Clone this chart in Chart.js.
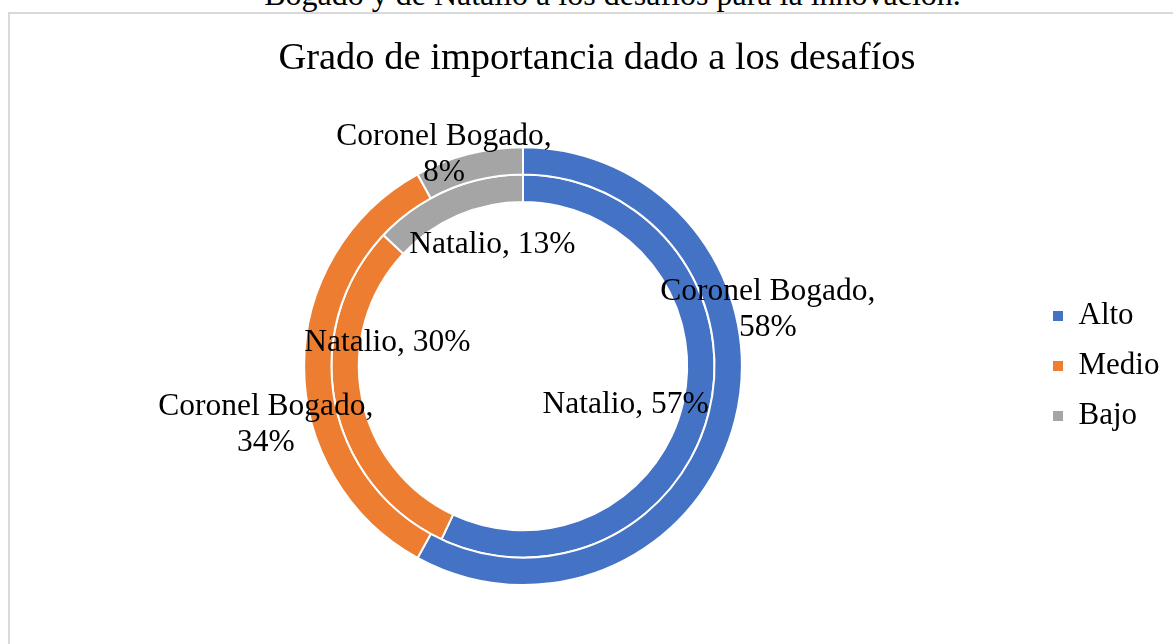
<!DOCTYPE html>
<html>
<head>
<meta charset="utf-8">
<title>Grado de importancia dado a los desafíos</title>
<script src="https://cdn.jsdelivr.net/npm/chart.js@4.4.1/dist/chart.umd.min.js"></script>
<style>
  html, body { margin: 0; padding: 0; background: #fff; width: 1173px; height: 644px; overflow: hidden; }
  #caption {
    position: absolute; left: 0; top: -22px; width: 1225px; text-align: center;
    font: 32px/32px "Liberation Serif", "Times New Roman", serif; color: #000; white-space: nowrap;
  }
  #frame {
    position: absolute; left: 8px; top: 12px; width: 1220px; height: 700px;
    border-left: 2px solid #d9d9d9; border-top: 2px solid #d9d9d9;
  }
  #chartCanvas { position: absolute; left: 8px; top: 13px; }
</style>
</head>
<body>
<div id="caption">Bogado y de Natalio a los desafíos para la innovación.</div>
<div id="frame"></div>
<canvas id="chartCanvas" width="1178" height="631"></canvas>
<script>
// data
var categories = ["Alto", "Medio", "Bajo"];
var seriesNames = ["Coronel Bogado", "Natalio"];
var coronelBogado = [58, 34, 8];   // outer ring
var natalio = [57, 30, 13];        // inner ring
var chartTitle = "Grado de importancia dado a los desafíos";

var colors = ["#4472C4", "#ED7D31", "#A5A5A5"];
var serif = "'Liberation Serif', 'Times New Roman', serif";

// draws "Serie, valor%" on every slice, the way Excel put them
var ringLabels = {
    id: "ringLabels",
    afterDatasetsDraw: function(chart, args, o) {
        var c = chart.ctx;
        c.save();
        c.font = o.size + "px " + serif;
        c.fillStyle = o.color;
        c.textAlign = "center";
        c.textBaseline = "middle";
        chart.data.datasets.forEach(function(ds, i) {
            var meta = chart.getDatasetMeta(i);
            meta.data.forEach(function(arc, j) {
                var p = arc.getProps(["x", "y", "startAngle", "endAngle", "innerRadius", "outerRadius"], true);
                var a = (p.startAngle + p.endAngle) / 2,
                    r = (p.innerRadius + p.outerRadius) / 2,
                    n = o.nudge[i][j];
                var x = p.x + Math.cos(a) * r + n[0],
                    y = p.y + Math.sin(a) * r + n[1] + o.shiftY;
                var txt = ds.label + ", " + ds.data[j] + "%";
                var lines = c.measureText(txt).width > o.wrapAt ? [ds.label + ",", ds.data[j] + "%"] : [txt];
                lines.forEach(function(l, k) {
                    c.fillText(l, x, y + (k - (lines.length - 1) / 2) * o.lineHeight);
                });
            });
        });
        c.restore();
    }
};

// fixed legend column width, so the ring and the title sit where Excel put them
var legendWidth = {
    id: "legendWidth",
    beforeLayout: function(chart, args, o) {
        var lg = chart.legend;
        if (!lg || lg._fixedWidth) return;
        var fit = lg.fit;
        lg.fit = function() {
            fit.call(this);
            this.width = o.width;
        };
        lg._fixedWidth = true;
    }
};

var ctx = document.getElementById("chartCanvas");
var chart = new Chart(ctx, {
    type: "doughnut",
    data: {
        labels: categories,
        datasets: [{
            label: seriesNames[0],
            data: coronelBogado,
            backgroundColor: colors,
            borderColor: "#fff",
            borderWidth: 2
        }, {
            label: seriesNames[1],
            data: natalio,
            backgroundColor: colors,
            borderColor: "#fff",
            borderWidth: 2
        }]
    },
    options: {
        responsive: false,
        animation: false,
        cutout: "75%",
        layout: { padding: { left: 4, right: 4, top: 0, bottom: 58 } },
        plugins: {
            title: {
                display: true,
                text: chartTitle,
                color: "#000",
                font: { family: serif, size: 38.5, weight: "normal" },
                padding: { top: 23, bottom: 64 }
            },
            legend: {
                position: "right",
                fullSize: false,
                labels: {
                    boxWidth: 10,
                    boxHeight: 10,
                    padding: 19,
                    color: "#000",
                    font: { family: serif, size: 31 },
                    generateLabels: function(ch) {
                        var items = Chart.overrides.doughnut.plugins.legend.labels.generateLabels(ch);
                        items.forEach(function(it) { it.lineWidth = 0; });
                        return items;
                    }
                }
            },
            tooltip: { enabled: false },
            legendWidth: { width: 148 },
            ringLabels: {
                size: 31.5,
                color: "#000",
                lineHeight: 35.5,
                wrapAt: 200,
                shiftY: 2.5,
                nudge: [
                    [[46, -110], [-52, 56], [-28, -15]],
                    [[-71, -3], [39, -59], [40, 39]]
                ]
            }
        }
    },
    plugins: [legendWidth, ringLabels]
});
</script>
</body>
</html>
